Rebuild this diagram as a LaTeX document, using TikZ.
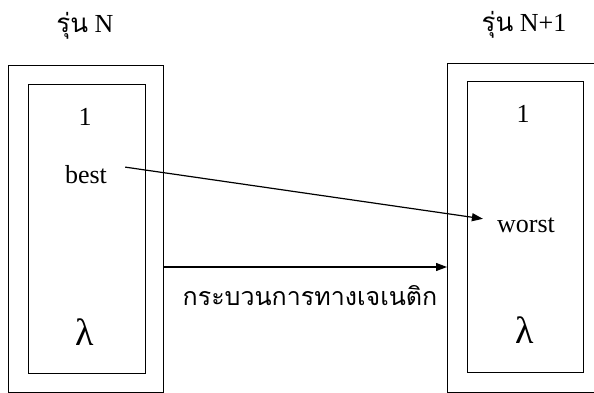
\documentclass[tikz,border=0pt]{standalone}
\usepackage{fontspec}
\setmainfont{Liberation Serif}
\newfontfamily\thaifont[Script=Thai]{Loma}
\usetikzlibrary{arrows.meta}
\tikzset{
  box/.style={draw, line width=1.4pt, anchor=north west, inner sep=0pt},
  lbl/.style={anchor=base, inner sep=0pt, font=\fontsize{26}{30}\selectfont},
  lam/.style={anchor=base, inner sep=0pt, font=\fontsize{38}{42}\selectfont},
  conn/.style={line width=1.2pt, -{Triangle[length=11pt,width=8pt]}}
}
\begin{document}
\begin{tikzpicture}[x=1pt,y=-1pt]
\useasboundingbox (0,0) rectangle (594,393);
\clip (0,0) rectangle (594,393);
% left population
\node[box, minimum width=155pt, minimum height=327pt] (outerL) at (8,65) {};
\node[box, minimum width=117pt, minimum height=289pt] (innerL) at (28,84) {};
% right population
\node[box, minimum width=152pt, minimum height=329pt] (outerR) at (447,63) {};
\node[box, minimum width=116pt, minimum height=291pt] (innerR) at (467,81) {};
% titles
\node[lbl] (titleL) at (85,33) {{\thaifont รุ่น} N};
\node[lbl] (titleR) at (524,32) {{\thaifont รุ่น} N+1};
% contents
\node[lbl] (oneL) at (85,126) {1};
\node[lbl] (best) at (86,183) {best};
\node[lam] (lamL) at (85,345) {λ};
\node[lbl] (oneR) at (523,123) {1};
\node[lbl] (worst) at (526,232) {worst};
\node[lam] (lamR) at (525,343) {λ};
% connectors
\coordinate (ay) at (0,267);
\draw[conn] ([xshift=18pt,yshift=7pt]best.east) -- ([xshift=-14pt,yshift=6pt]worst.west);
\draw[conn] (outerL.east |- ay) -- (outerR.west |- ay);
\node[anchor=base, inner sep=0pt, font=\thaifont\fontsize{25}{29}\selectfont] (gen) at (310,305) {กระบวนการทางเจเนติก};
\end{tikzpicture}
\end{document}
